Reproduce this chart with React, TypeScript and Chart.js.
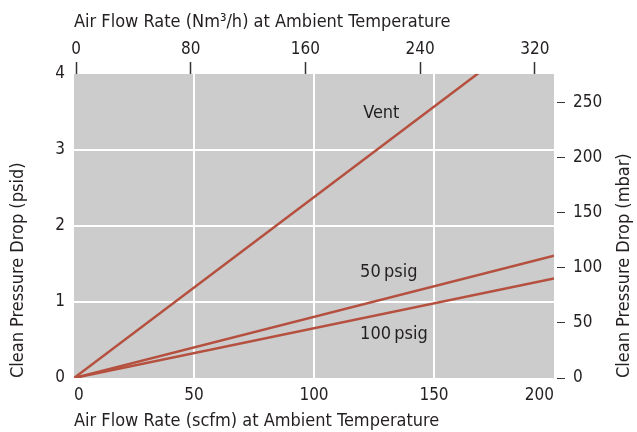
import { useEffect, useRef } from "react";
import { Chart, registerables } from "chart.js";

Chart.register(...registerables);

// ---- data ----
const scfmTicks = [0, 50, 100, 150, 200];
const nm3hTicks = [0, 80, 160, 240, 320];
const psidTicks = [0, 1, 2, 3, 4];
const mbarTicks = [0, 50, 100, 150, 200, 250];

const flowScfm = [0, 200];
const ventPsid = [0, 4.76];
const psig50Psid = [0, 1.61];
const psig100Psid = [0, 1.31];

const seriesNames = ["Vent", "50\u2009psig", "100\u2009psig"];
const labelScfm = [120.5, 119.2, 119.2];
const labelPsid = [3.48, 1.39, 0.58];

const scfmRange = [0, 200];
const nm3hRange = [-1.4, 333.3];
const psidRange = [0, 4];
const mbarRange = [0, 275.8];

const titleBottom = "Air Flow Rate (scfm) at Ambient Temperature";
const titleTop = "Air Flow Rate (Nm\u00B3/h) at Ambient Temperature";
const titleLeft = "Clean Pressure Drop (psid)";
const titleRight = "Clean Pressure Drop (mbar)";

// ---- style ----
const FONT = "'DejaVu Sans Condensed', 'Liberation Sans Narrow', sans-serif";
const TEXT = "#231f20";
const LINE = "#b5503f";
const BG = "#cccccc";

const pts = (ys: number[]) => ys.map((y, i) => ({ x: flowScfm[i], y }));

const bgPlugin = {
  id: "plotBg",
  beforeDraw(chart: any) {
    const { ctx, chartArea } = chart;
    ctx.save();
    ctx.fillStyle = BG;
    ctx.fillRect(chartArea.left, chartArea.top, chartArea.right - chartArea.left, chartArea.bottom - chartArea.top);
    ctx.restore();
  },
};

const labelPlugin = {
  id: "seriesLabels",
  afterDraw(chart: any) {
    const { ctx, scales } = chart;
    ctx.save();
    ctx.fillStyle = TEXT;
    ctx.font = `18px ${FONT}`;
    ctx.textAlign = "left";
    ctx.textBaseline = "middle";
    seriesNames.forEach((name, i) => {
      ctx.fillText(name, scales.x.getPixelForValue(labelScfm[i]), scales.y.getPixelForValue(labelPsid[i]));
    });
    // right axis title, reading bottom-to-top
    const r = scales.y2;
    ctx.font = `18px ${FONT}`;
    ctx.translate(r.right - 13, chart.chartArea.bottom);
    ctx.rotate(-Math.PI / 2);
    ctx.fillText(titleRight, 0, 0);
    ctx.restore();
  },
};

const edgeGrid = (vals: number[]) => (c: any) => {
  const v = c.tick?.value;
  return v === vals[0] || v === vals[vals.length - 1] ? "rgba(0,0,0,0)" : "#ffffff";
};

export default function App() {
  const ref = useRef<HTMLCanvasElement>(null);

  useEffect(() => {
    if (!ref.current) return;
    const tickFont = { family: FONT, size: 17 };
    const titleFont = { family: FONT, size: 18 };
    const chart = new Chart(ref.current, {
      type: "scatter",
      data: {
        datasets: [
          { label: seriesNames[0], data: pts(ventPsid), showLine: true, borderColor: LINE, borderWidth: 2.5, pointRadius: 0, xAxisID: "x", yAxisID: "y" },
          { label: seriesNames[1], data: pts(psig50Psid), showLine: true, borderColor: LINE, borderWidth: 2.5, pointRadius: 0, xAxisID: "x", yAxisID: "y" },
          { label: seriesNames[2], data: pts(psig100Psid), showLine: true, borderColor: LINE, borderWidth: 2.5, pointRadius: 0, xAxisID: "x", yAxisID: "y" },
        ],
      },
      options: {
        responsive: false,
        animation: false,
        events: [],
        layout: { padding: 0 },
        plugins: { legend: { display: false }, tooltip: { enabled: false } },
        scales: {
          x: {
            type: "linear",
            position: "bottom",
            min: scfmRange[0],
            max: scfmRange[1],
            afterBuildTicks: (s: any) => { s.ticks = scfmTicks.map((value) => ({ value })); },
            afterFit: (s: any) => { s.height = 54; },
            border: { display: false },
            grid: { color: edgeGrid(scfmTicks), lineWidth: 2, drawTicks: false },
            ticks: { font: tickFont, color: TEXT, padding: 7, align: "inner", maxRotation: 0 },
            title: { display: true, text: titleBottom, align: "start", color: TEXT, font: titleFont, padding: { top: 0, bottom: 0 } },
          },
          x2: {
            type: "linear",
            position: "top",
            min: nm3hRange[0],
            max: nm3hRange[1],
            afterBuildTicks: (s: any) => { s.ticks = nm3hTicks.map((value) => ({ value })); },
            afterFit: (s: any) => { s.height = 74; },
            border: { display: false },
            grid: { drawOnChartArea: false, drawTicks: true, tickLength: 12, tickColor: "#333333", tickWidth: 1.5 },
            ticks: { font: tickFont, color: TEXT, padding: 2, maxRotation: 0 },
            title: { display: true, text: titleTop, align: "start", color: TEXT, font: titleFont, padding: { top: 12, bottom: 0 } },
          },
          y: {
            type: "linear",
            position: "left",
            min: psidRange[0],
            max: psidRange[1],
            afterBuildTicks: (s: any) => { s.ticks = psidTicks.map((value) => ({ value })); },
            afterFit: (s: any) => { s.width = 74; },
            border: { display: false },
            grid: { color: edgeGrid(psidTicks), lineWidth: 2, drawTicks: false },
            ticks: { font: tickFont, color: TEXT, padding: 9 },
            title: { display: true, text: titleLeft, align: "start", color: TEXT, font: titleFont, padding: { top: 8, bottom: 0 } },
          },
          y2: {
            type: "linear",
            position: "right",
            min: mbarRange[0],
            max: mbarRange[1],
            afterBuildTicks: (s: any) => { s.ticks = mbarTicks.map((value) => ({ value })); },
            afterFit: (s: any) => { s.width = 83; },
            border: { display: false },
            grid: { drawOnChartArea: false, drawTicks: true, tickLength: 11, tickColor: "#333333", tickWidth: 1.2, tickBorderDash: [0, 3, 8, 100] },
            ticks: { font: tickFont, color: TEXT, padding: 8 },
          },
        },
      },
      plugins: [bgPlugin, labelPlugin],
    } as any);
    return () => chart.destroy();
  }, []);

  return (
    <div style={{ position: "fixed", left: 0, top: 0, width: 637, height: 432, background: "#ffffff" }}>
      <canvas ref={ref} width={637} height={432} style={{ width: 637, height: 432, display: "block" }} />
    </div>
  );
}
